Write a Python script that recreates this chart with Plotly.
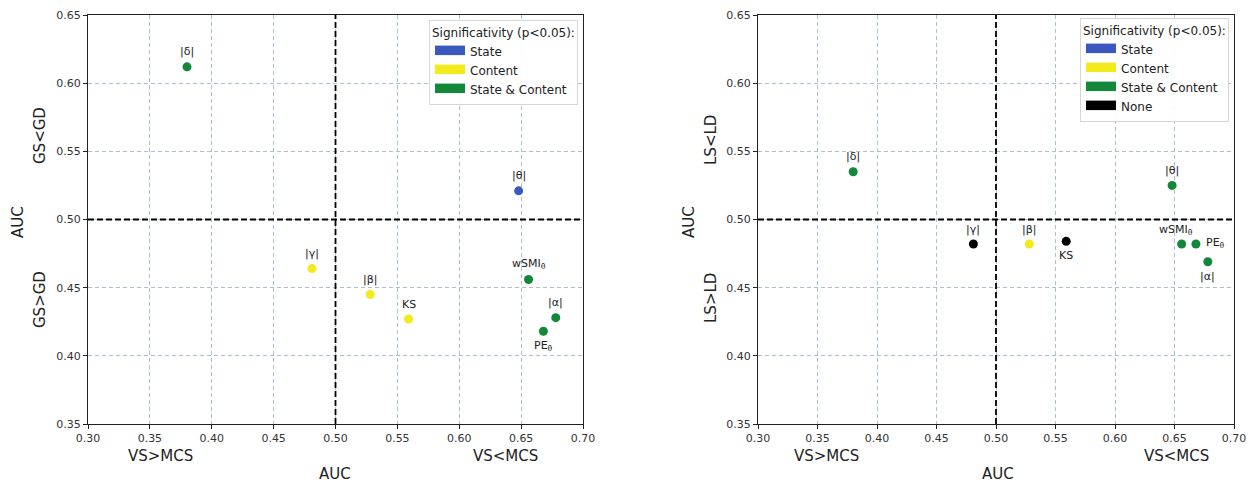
import plotly.graph_objects as go

# ---------------- data ----------------
labels = ["|δ|", "|θ|", "|γ|", "|β|", "KS", "wSMI<sub>θ</sub>", "PE<sub>θ</sub>", "|α|"]
left_x = [0.380, 0.648, 0.481, 0.528, 0.559, 0.656, 0.668, 0.678]
left_y = [0.612, 0.521, 0.464, 0.445, 0.427, 0.456, 0.418, 0.428]
left_cat = ["State & Content", "State", "Content", "Content", "Content",
            "State & Content", "State & Content", "State & Content"]
right_x = [0.380, 0.648, 0.481, 0.528, 0.559, 0.656, 0.668, 0.678]
right_y = [0.535, 0.525, 0.482, 0.482, 0.484, 0.482, 0.482, 0.469]
right_cat = ["State & Content", "State & Content", "None", "Content", "None",
             "State & Content", "State & Content", "State & Content"]
left_legend = ["State", "Content", "State & Content"]
right_legend = ["State", "Content", "State & Content", "None"]
x_ticks = [0.30, 0.35, 0.40, 0.45, 0.50, 0.55, 0.60, 0.65, 0.70]
y_ticks = [0.35, 0.40, 0.45, 0.50, 0.55, 0.60, 0.65]

# label offsets (pixels) – style only
left_off = [(0, 15), (0, 15), (0, 15), (0, 15), (0, 15), (0, 15), (0, -15), (0, 15)]
right_off = [(0, 15), (0, 15), (0, 15), (0, 15), (0, -14), (-6, 14), (20, 1), (0, -15)]

colors = {"State": "#3a58bd", "Content": "#f2ea1c", "State & Content": "#13873a", "None": "#000000"}

FONT = "DejaVu Sans"
fig = go.Figure()

def add_panel(xs, ys, cats, offs, xa, ya, legname, legcats):
    for cat in legcats:
        # legend patch (filled rectangle icon)
        fig.add_trace(go.Scatter(x=[None], y=[None], mode="lines", fill="toself", name=cat,
                                 fillcolor=colors[cat], line=dict(color=colors[cat], width=7),
                                 xaxis=xa, yaxis=ya, legend=legname, showlegend=True))
    for cat in set(cats):
        idx = [i for i, c in enumerate(cats) if c == cat]
        fig.add_trace(go.Scatter(x=[xs[i] for i in idx], y=[ys[i] for i in idx], mode="markers",
                                 marker=dict(size=9, color=colors[cat]), showlegend=False,
                                 xaxis=xa, yaxis=ya))
    for i, lab in enumerate(labels):
        fig.add_annotation(x=xs[i], y=ys[i], xref=xa, yref=ya, text=lab, showarrow=False,
                           xshift=offs[i][0], yshift=offs[i][1],
                           font=dict(size=11, color="#222", family=FONT))

add_panel(left_x, left_y, left_cat, left_off, "x", "y", "legend", left_legend)
add_panel(right_x, right_y, right_cat, right_off, "x2", "y2", "legend2", right_legend)

axis_common = dict(range=[0.30, 0.70], showline=True, linecolor="#222", linewidth=1.2, mirror=True,
                   ticks="outside", ticklen=4, tickcolor="#222", showgrid=True,
                   gridcolor="#aebfcd", griddash="4px,3px", gridwidth=1, zeroline=False,
                   automargin=False,
                   tickfont=dict(size=11, color="#333", family=FONT))
xax = dict(axis_common, tickvals=x_ticks, ticktext=[f"{v:.2f}" for v in x_ticks])
yax = dict(axis_common, range=[0.35, 0.65], tickvals=y_ticks, ticktext=[f"{v:.2f}" for v in y_ticks])

W, H = 1252, 485
ly0, ly1 = 1 - 424 / H, 1 - 15 / H
leg_common = dict(xanchor="right", yanchor="top",
                  bgcolor="rgba(255,255,255,0.9)", bordercolor="#d6d6d6", borderwidth=1,
                  title=dict(text="Significativity (p<0.05):", font=dict(size=12, family=FONT, color="#222")),
                  font=dict(size=12, family=FONT, color="#222"), tracegroupgap=0)
fig.update_layout(
    width=W, height=H, margin=dict(l=0, r=0, t=0, b=0, autoexpand=False),
    paper_bgcolor="white", plot_bgcolor="white",
    xaxis=dict(xax, domain=[88 / W, 583 / W], anchor="y"),
    yaxis=dict(yax, domain=[ly0, ly1], anchor="x"),
    xaxis2=dict(xax, domain=[758 / W, 1234 / W], anchor="y2"),
    yaxis2=dict(yax, domain=[ly0, ly1], anchor="x2"),
    legend=dict(leg_common, x=578 / W, y=1 - 20 / H),
    legend2=dict(leg_common, x=1229 / W, y=1 - 18 / H),
    showlegend=True,
)

# reference lines at 0.5
for xa, ya in (("x", "y"), ("x2", "y2")):
    fig.add_shape(type="line", xref=xa, yref=ya, x0=0.5, x1=0.5, y0=0.35, y1=0.65,
                  line=dict(color="black", width=1.8, dash="6px,3px"))
    fig.add_shape(type="line", xref=xa, yref=ya, x0=0.30, x1=0.70, y0=0.5, y1=0.5,
                  line=dict(color="black", width=1.8, dash="6px,3px"))

def txt(x, y, s, angle=0, size=15):
    fig.add_annotation(x=x / W, y=1 - y / H, xref="paper", yref="paper", text=s, showarrow=False,
                       textangle=angle, font=dict(size=size, family=FONT, color="#222"),
                       xanchor="center", yanchor="middle")

# left panel axis texts
txt(160, 456, "VS>MCS")
txt(505, 456, "VS<MCS")
txt(335, 474, "AUC")
txt(18, 222, "AUC", -90)
txt(40, 136, "GS<GD", -90)
txt(40, 300, "GS>GD", -90)
# right panel axis texts
txt(826, 456, "VS>MCS")
txt(1176, 456, "VS<MCS")
txt(998, 474, "AUC")
txt(689, 222, "AUC", -90)
txt(711, 140, "LS<LD", -90)
txt(711, 298, "LS>LD", -90)

fig.write_html("out.html", config={"displayModeBar": False},
               post_script="document.body.style.margin='0';document.body.style.overflow='hidden';")
